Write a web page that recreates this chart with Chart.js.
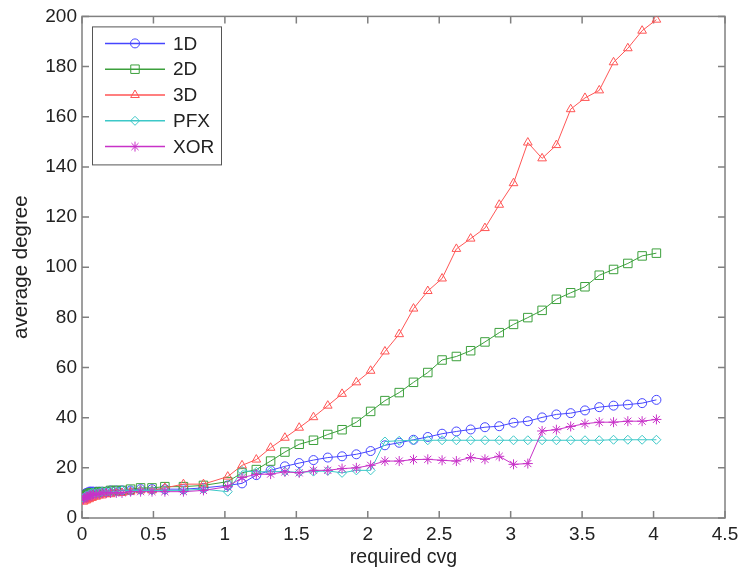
<!DOCTYPE html>
<html>
<head>
<meta charset="utf-8">
<script src="https://cdn.jsdelivr.net/npm/chart.js@4/dist/chart.umd.min.js"></script>
<style>
  html, body { margin: 0; padding: 0; background: #fff; }
  #wrap { width: 746px; height: 570px; }
</style>
</head>
<body>
<div id="wrap"><canvas id="c" width="746" height="570"></canvas></div>
<script>
// ---- data ----
const seriesNames = ['1D', '2D', '3D', 'PFX', 'XOR'];
const cvg = [0.01,0.02,0.03,0.04,0.05,0.06,0.07,0.08,0.1,0.12,0.14,0.17,0.2,0.24,0.28,0.34,0.41,0.49,0.58,0.71,0.85,
  1.02,1.12,1.22,1.32,1.42,1.52,1.62,1.72,1.82,1.92,2.02,2.12,2.22,2.32,2.42,2.52,2.62,2.72,2.82,2.92,
  3.02,3.12,3.22,3.32,3.42,3.52,3.62,3.72,3.82,3.92,4.02];
const deg1D = [9,9.5,10,10,10.5,10.5,10.5,10.5,10.5,10.5,10.5,10.5,11,11,11,11,11.5,11.5,11.5,11.5,12,
  13,13.8,17.1,19,20.6,21.9,23.1,24.1,24.6,25.4,26.7,29,30,31.2,32.3,33.6,34.5,35.3,36.2,36.6,
  38,38.6,40.1,41.3,41.8,42.9,44.2,44.8,45.2,45.8,47.1];
const deg2D = [8.5,9,9,9.5,9.5,10,10,10,10,10.5,10.5,10.5,11,11,11,11.5,12,12,12.5,12.5,13,
  14.5,18,19.3,22.7,26.3,29.4,31,33.3,35.2,38.2,42.5,46.8,50,54.1,58,63,64.4,66.7,70.2,73.9,
  77.2,79.9,82.8,87.2,89.8,92.2,96.8,99.1,101.5,104.5,105.6];
const deg3D = [6.5,7,7,7.5,7.5,8,8,8.5,8.5,9,9,9.5,9.5,10,10,10.5,11,11,12,13.5,13.5,
  16.5,21,23.3,28,32,36,40.2,44.8,49.5,54.1,58.7,66.4,73.3,83.5,90.5,95.5,107.3,111.4,115.6,124.9,
  133.5,149.7,143.4,148.7,163,167.5,170.5,181.7,187.3,194.3,198.7];
const degPFX = [8,8.5,9,9,9.5,9.5,10,10,10,10,10.5,10.5,10.5,10.5,11,11,11,11,11,11,11.5,
  10.5,18.8,18.4,18.5,18.5,18.2,18.5,18.8,18,19,19,30.5,30.8,31,31,31,31,31,31,31,
  31,31,31,31,31,31,31,31.2,31.2,31.2,31.2];
const degXOR = [7.5,8,8.5,8.5,9,9,9,9.5,9.5,9.5,10,10,10,10,10,10.5,10.5,10.5,10.5,10.5,11,
  12.5,16.1,17.4,17.5,18.4,18,19,19,19.7,20,21,22.7,22.7,23.3,23.4,23,22.7,24.1,23.4,24.6,
  21.4,21.7,34.7,35.2,36.5,37.6,38.2,38.2,38.6,38.6,39.3];
const xTickLabels = ['0','0.5','1','1.5','2','2.5','3','3.5','4','4.5'];
const yTickLabels = ['0','20','40','60','80','100','120','140','160','180','200'];

// ---- styles ----
const seriesValues = [deg1D, deg2D, deg3D, degPFX, degXOR];
const lineColors = ['rgb(70,70,255)', 'rgb(60,160,60)', 'rgb(255,85,85)', 'rgb(60,200,200)', 'rgb(200,50,200)'];
const markers = ['circle', 'rect', 'triangle', 'rectRot', 'star'];
const radii = [4.5, 6, 5, 4.5, 5];
const FONT = 'Liberation Sans, Arial, Helvetica, sans-serif';
const AXIS_GRAY = '#808080';

const datasets = seriesNames.map((name, i) => ({
  label: name,
  data: cvg.map((x, k) => ({ x: x, y: seriesValues[i][k] })),
  showLine: true,
  borderColor: lineColors[i],
  borderWidth: 1,
  pointStyle: markers[i],
  pointRadius: radii[i],
  pointHoverRadius: radii[i],
  pointBorderColor: lineColors[i],
  pointBackgroundColor: 'rgba(0,0,0,0)',
  pointBorderWidth: 1,
  order: seriesNames.length - i,
  tension: 0
}));

const axesPlugin = {
  id: 'matlabAxes',
  beforeDatasetsDraw(chart) {
    const { ctx, chartArea: a, scales: { x, y } } = chart;
    ctx.save();
    ctx.strokeStyle = AXIS_GRAY;
    ctx.lineWidth = 1.5;
    ctx.strokeRect(a.left, a.top, a.right - a.left, a.bottom - a.top);
    const L = 7;
    ctx.beginPath();
    x.ticks.forEach(t => {
      const px = x.getPixelForValue(t.value);
      ctx.moveTo(px, a.bottom); ctx.lineTo(px, a.bottom - L);
      ctx.moveTo(px, a.top); ctx.lineTo(px, a.top + L);
    });
    y.ticks.forEach(t => {
      const py = y.getPixelForValue(t.value);
      ctx.moveTo(a.left, py); ctx.lineTo(a.left + L, py);
      ctx.moveTo(a.right, py); ctx.lineTo(a.right - L, py);
    });
    ctx.stroke();
    ctx.restore();
  }
};

const legendPlugin = {
  id: 'matlabLegend',
  afterDatasetsDraw(chart) {
    const { ctx, chartArea: a } = chart;
    const bx = a.left + 10, by = a.top + 10, bw = 129, bh = 138;
    ctx.save();
    ctx.fillStyle = '#fff';
    ctx.fillRect(bx, by, bw, bh);
    ctx.strokeStyle = '#555';
    ctx.lineWidth = 1;
    ctx.strokeRect(bx + 0.5, by + 0.5, bw, bh);
    ctx.textBaseline = 'middle';
    ctx.textAlign = 'left';
    seriesNames.forEach((name, i) => {
      const yy = by + 17 + i * 25.8;
      ctx.strokeStyle = lineColors[i];
      ctx.lineWidth = 1.5;
      ctx.beginPath();
      ctx.moveTo(bx + 13, yy); ctx.lineTo(bx + 73, yy);
      ctx.stroke();
      ctx.lineWidth = 1;
      ctx.fillStyle = 'rgba(0,0,0,0)';
      Chart.helpers.drawPoint(ctx, { pointStyle: markers[i], radius: radii[i], rotation: 0, borderWidth: 1 }, bx + 43, yy);
      ctx.font = '19px ' + FONT;
      ctx.fillStyle = '#222';
      ctx.fillText(name, bx + 81, yy + 1);
    });
    ctx.restore();
  }
};

new Chart(document.getElementById('c'), {
  type: 'scatter',
  data: { datasets },
  options: {
    responsive: false,
    animation: false,
    events: [],
    layout: { padding: { top: 14, right: 21, left: 0, bottom: 0 } },
    plugins: { legend: { display: false }, tooltip: { enabled: false } },
    scales: {
      x: {
        type: 'linear', min: 0, max: 4.5,
        grid: { display: false, drawTicks: false },
        border: { display: false },
        ticks: {
          stepSize: 0.5, padding: 5, color: '#222', maxRotation: 0,
          font: { family: FONT, size: 19 },
          callback: (v, idx) => xTickLabels[idx]
        },
        title: { display: true, text: 'required cvg', color: '#222', font: { family: FONT, size: 19.5 }, padding: { top: 0, bottom: 1 } },
        afterFit: s => { s.height = 52; }
      },
      y: {
        type: 'linear', min: 0, max: 200,
        grid: { display: false, drawTicks: false },
        border: { display: false },
        ticks: {
          stepSize: 20, padding: 5, color: '#222',
          font: { family: FONT, size: 19 },
          callback: (v, idx) => yTickLabels[idx]
        },
        title: { display: true, text: 'average degree', color: '#222', font: { family: FONT, size: 20.5 }, padding: { top: 9, bottom: 0 } },
        afterFit: s => { s.width = 82; }
      }
    }
  },
  plugins: [axesPlugin, legendPlugin]
});
</script>
</body>
</html>
